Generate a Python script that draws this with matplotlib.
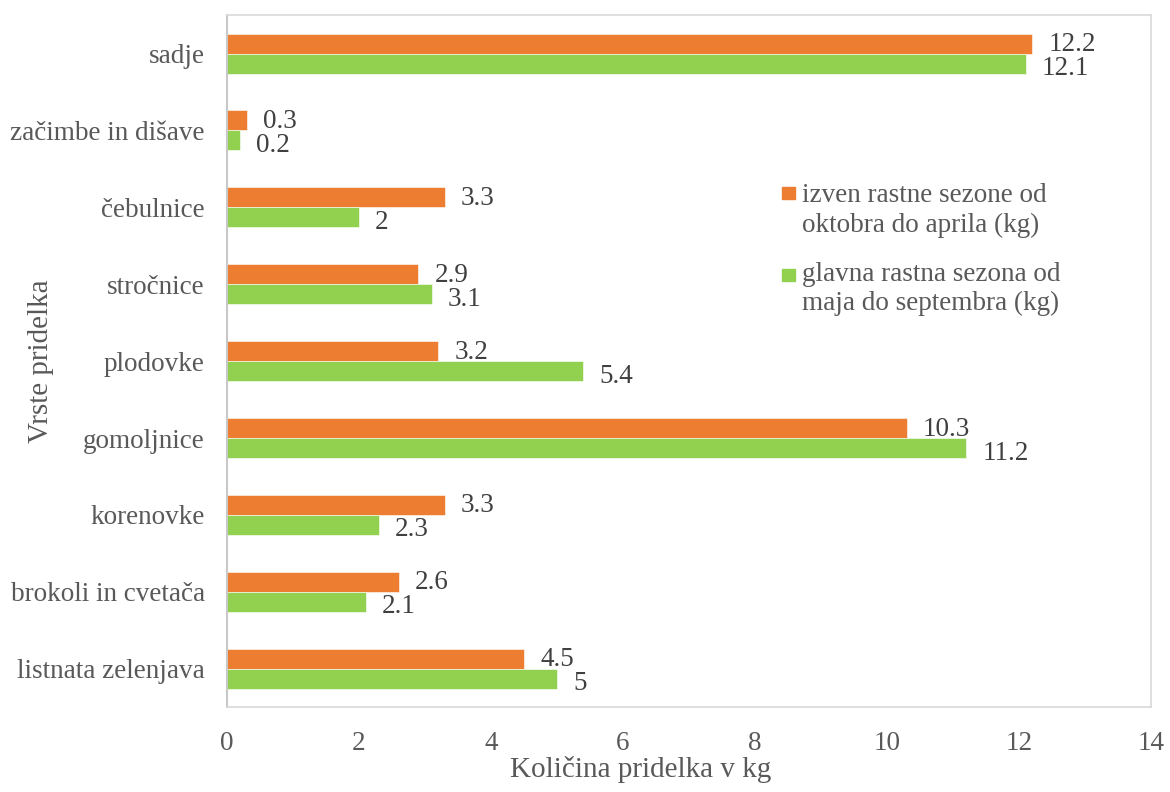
import numpy as np
import matplotlib.pyplot as plt
from matplotlib.patches import Rectangle

# Data (top to bottom as in the chart)
kategorije = ["sadje", "začimbe in dišave", "čebulnice", "stročnice", "plodovke",
              "gomoljnice", "korenovke", "brokoli in cvetača", "listnata zelenjava"]
izven_sezone = [12.2, 0.3, 3.3, 2.9, 3.2, 10.3, 3.3, 2.6, 4.5]
glavna_sezona = [12.1, 0.2, 2, 3.1, 5.4, 11.2, 2.3, 2.1, 5]
oznake_izven = ["12.2", "0.3", "3.3", "2.9", "3.2", "10.3", "3.3", "2.6", "4.5"]
oznake_glavna = ["12.1", "0.2", "2", "3.1", "5.4", "11.2", "2.3", "2.1", "5"]
legenda = [["izven rastne sezone od", "oktobra do aprila (kg)"],
           ["glavna rastna sezona od", "maja do septembra (kg)"]]

orange = "#ED7D31"
green = "#92D050"
gray = "#595959"
fs = 19.5

plt.rcParams['font.family'] = ['Liberation Serif', 'DejaVu Serif']

fig = plt.figure(figsize=(11.7, 7.92), dpi=100)
ax = fig.add_axes([0.194, 0.107, 0.79, 0.874])

y = np.arange(len(kategorije))
h = 0.26
b1 = ax.barh(y - h/2, izven_sezone, height=h, color=orange, edgecolor="white", linewidth=0.4)
b2 = ax.barh(y + h/2, glavna_sezona, height=h, color=green, edgecolor="white", linewidth=0.4)

# value labels
for bar, t in zip(b1, oznake_izven):
    ax.annotate(t, (bar.get_width(), bar.get_y() + bar.get_height()/2),
                xytext=(16, -1), textcoords="offset pixels",
                va="center", ha="left", fontsize=fs, color="#404040")
for bar, t in zip(b2, oznake_glavna):
    ax.annotate(t, (bar.get_width(), bar.get_y() + bar.get_height()/2),
                xytext=(16, -5), textcoords="offset pixels",
                va="center", ha="left", fontsize=fs, color="#404040")

ax.set_xlim(0, 14)
ax.set_ylim(len(kategorije) - 0.5, -0.5)
ax.set_xticks(range(0, 15, 2))
ax.set_yticks(y)
ax.set_yticklabels(kategorije)
ax.tick_params(length=0, labelsize=fs, colors=gray)
ax.tick_params(axis='x', pad=17)
ax.tick_params(axis='y', pad=16)

for s in ax.spines.values():
    s.set_color("#D9D9D9")
    s.set_linewidth(1.2)
ax.spines['left'].set_color("#C8C8C8")
ax.spines['left'].set_linewidth(1.5)

ax.set_xlabel("Količina pridelka v kg", fontsize=21, color=gray, va="baseline")
ax.xaxis.set_label_coords(0.448, -0.101)
ax.set_ylabel("Vrste pridelka", fontsize=21, color=gray, va="center")
ax.yaxis.set_label_coords(-0.201, 0.5)

# legend, drawn as Excel lays it out (marker beside the first line)
boje = [orange, green]
baseline = [[0.7298, 0.6864], [0.6156, 0.5737]]
marker_y = [0.7341, 0.6156]
for barva, vrstice, bl, my in zip(boje, legenda, baseline, marker_y):
    ax.add_patch(Rectangle((0.6006, my), 0.0141, 0.0173, transform=ax.transAxes,
                           color=barva, clip_on=False))
    for txt, yy in zip(vrstice, bl):
        ax.text(0.6223, yy, txt, transform=ax.transAxes, fontsize=fs,
                color=gray, va="baseline", ha="left")

fig.savefig("out.png", dpi=100)
